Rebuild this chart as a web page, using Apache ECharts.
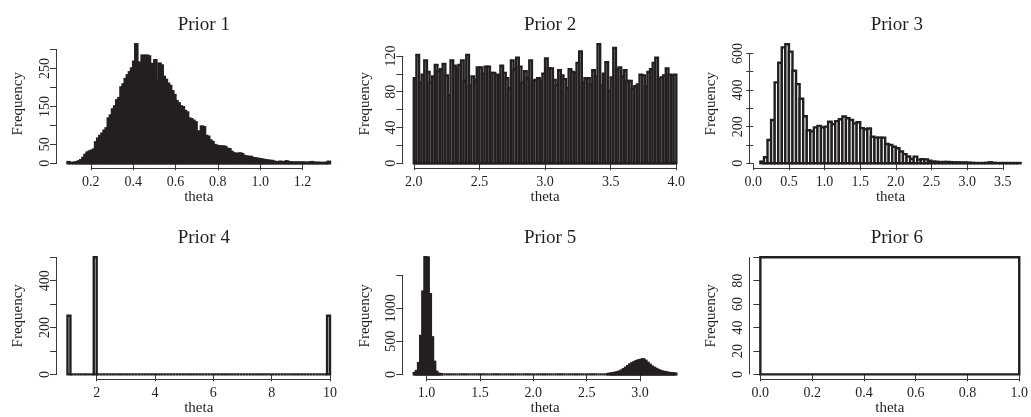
<!DOCTYPE html>
<html>
<head>
<meta charset="utf-8">
<script src="https://cdn.jsdelivr.net/npm/echarts@6/dist/echarts.min.js"></script>
<style>
html,body{margin:0;padding:0;background:#fff;}
#chart{width:1031px;height:417px;}
</style>
</head>
<body>
<div id="chart"></div>
<script>
// ---------- data ----------
const titles = ['Prior 1', 'Prior 2', 'Prior 3', 'Prior 4', 'Prior 5', 'Prior 6'];

// histogram bins: first break, bin width, counts
const prior1Start = 0.09, prior1Width = 0.01;
const prior1Counts = [3,1,0,2,3,5,8,14,22,28,31,33,36,55,65,72,78,86,92,118,126,142,150,166,172,200,208,222,232,240,250,268,314,266,262,284,283,284,282,250,262,272,218,263,258,228,220,210,204,190,180,164,158,150,148,138,134,118,116,112,108,80,84,97,95,72,70,60,56,48,46,45,44,44,43,38,37,30,26,25,24,26,24,19,18,16,17,14,13,12,11,10,9,8,7,6,6,4,3,2,4,3,2,5,3,2,1,2,1,2,1,2,1,1,2,3,1,1,1,1,0,1,1,4];

const prior2Start = 2.0, prior2Width = 0.02;
const prior2Counts = [95,121,90,99,115,102,90,97,110,103,105,111,98,76,115,109,106,110,115,92,121,87,97,93,107,107,100,108,108,101,101,99,98,109,101,95,84,115,105,118,108,90,103,95,115,92,93,95,92,100,117,106,106,93,87,104,98,94,84,105,102,101,112,125,90,95,95,88,104,97,133,87,100,113,81,96,129,105,107,97,104,92,92,83,86,88,99,98,86,102,105,112,118,94,96,98,106,99,98,99];

const prior3Start = 0.10, prior3Width = 0.05;
const prior3Counts = [9,33,127,236,442,549,633,650,610,505,432,352,257,180,174,196,204,196,200,227,213,230,240,255,246,236,218,224,192,186,190,145,140,140,140,105,100,90,82,64,50,37,24,36,20,22,21,14,9,8,6,7,7,6,5,5,4,4,3,2,1,1,1,2,5,2,1,1,1,1,1,1,1];

const prior4Start = 1.0, prior4Width = 0.1;
const prior4Counts = [250,0,0,0,0,0,0,0,0,500,
  0,0,0,0,0,0,0,0,0,0, 0,0,0,0,0,0,0,0,0,0, 0,0,0,0,0,0,0,0,0,0, 0,0,0,0,0,0,0,0,0,0,
  0,0,0,0,0,0,0,0,0,0, 0,0,0,0,0,0,0,0,0,0, 0,0,0,0,0,0,0,0,0,0,
  0,0,0,0,0,0,0,0,0,250];

const prior5Start = 0.88, prior5Width = 0.02;
const prior5Counts = [20,50,170,580,1250,1770,1765,1210,560,190,40,10,3,
  0,0,0,0,0,0,0,0,0,0, 0,0,0,0,0,0,0,0,0,0, 0,0,0,0,0,0,0,0,0,0, 0,0,0,0,0,0,0,0,0,0,
  0,0,0,0,0,0,0,0,0,0, 0,0,0,0,0,0,0,0,0,0, 0,0,0,0,0,0,0,0,0,0, 0,0,0,0,0,0,0,0,
  8,12,18,25,32,42,58,78,100,125,150,168,185,200,212,218,228,205,175,145,118,100,82,66,52,42,34,27,22,18,14,11];

const prior6Start = 0.0, prior6Width = 1.0;
const prior6Counts = [100];

// axis ticks and labels
const xTicks = [
  [0.2,0.4,0.6,0.8,1.0,1.2],
  [2.0,2.5,3.0,3.5,4.0],
  [0.0,0.5,1.0,1.5,2.0,2.5,3.0,3.5],
  [2,4,6,8,10],
  [1.0,1.5,2.0,2.5,3.0],
  [0.0,0.2,0.4,0.6,0.8,1.0]
];
const xLabelDecimals = [1,1,1,0,1,1];
const yTicks = [
  [0,50,100,150,200,250,300],
  [0,20,40,60,80,100,120],
  [0,100,200,300,400,500,600],
  [0,100,200,300,400,500],
  [0,500,1000,1500],
  [0,20,40,60,80,100]
];
const yLabels = [
  [0,50,150,250],
  [0,40,80,120],
  [0,200,400,600],
  [0,200,400],
  [0,500,1000],
  [0,20,40,60,80]
];
const xName = 'theta', yName = 'Frequency';

// ---------- build ----------
const starts = [prior1Start, prior2Start, prior3Start, prior4Start, prior5Start, prior6Start];
const widths = [prior1Width, prior2Width, prior3Width, prior4Width, prior5Width, prior6Width];
const counts = [prior1Counts, prior2Counts, prior3Counts, prior4Counts, prior5Counts, prior6Counts];

const FONT = '"Liberation Serif", "DejaVu Serif", serif';
const INK = '#231f20';
const AXIS = '#3a3a3a';
const colLeft = [57, 403.3, 750];
const rowTop = [39.5, 252.5];
const GW = 283.5, GH = 128.5;

const grid = [], xAxis = [], yAxis = [], series = [], title = [];

for (let i = 0; i < 6; i++) {
  const r = Math.floor(i / 3), c = i % 3;
  const n = counts[i].length;
  const xlo = starts[i], xhi = starts[i] + n * widths[i];
  const xr = xhi - xlo;
  const ymax = Math.max.apply(null, counts[i]);
  grid.push({left: colLeft[c], top: rowTop[r], width: GW, height: GH});
  title.push({
    text: titles[i], left: colLeft[c] + GW / 2, top: rowTop[r] - 29, textAlign: 'center',
    textStyle: {fontFamily: FONT, fontSize: 19, fontWeight: 'normal', color: INK}
  });
  const dec = xLabelDecimals[i];
  xAxis.push({
    gridIndex: i, type: 'value', min: xlo - 0.04 * xr, max: xhi + 0.04 * xr,
    axisLine: {show: false}, splitLine: {show: false},
    axisTick: {show: true, length: 7, customValues: xTicks[i], lineStyle: {color: AXIS, width: 1}},
    axisLabel: {customValues: xTicks[i], margin: 7, fontFamily: FONT, fontSize: 14, color: INK,
      formatter: v => Number(v).toFixed(dec)},
    name: xName, nameLocation: 'middle', nameGap: 21,
    nameTextStyle: {fontFamily: FONT, fontSize: 15, color: INK}
  });
  yAxis.push({
    gridIndex: i, type: 'value', min: -0.04 * ymax, max: 1.04 * ymax,
    axisLine: {show: false}, splitLine: {show: false},
    axisTick: {show: true, length: 7, customValues: yTicks[i], lineStyle: {color: AXIS, width: 1}},
    axisLabel: {customValues: yLabels[i], rotate: 90, margin: 5, fontFamily: FONT, fontSize: 14, color: INK,
      formatter: v => String(v)},
    name: yName, nameLocation: 'middle', nameGap: 31, nameRotate: 90,
    nameTextStyle: {fontFamily: FONT, fontSize: 15, color: INK}
  });
  const bins = counts[i].map((v, j) => [starts[i] + j * widths[i], starts[i] + (j + 1) * widths[i], v]);
  series.push({
    type: 'custom', xAxisIndex: i, yAxisIndex: i, data: bins, encode: {x: [0, 1], y: 2},
    silent: true, clip: false,
    renderItem: (params, api) => {
      const p0 = api.coord([api.value(0), 0]);
      const p1 = api.coord([api.value(1), api.value(2)]);
      return {
        type: 'rect',
        shape: {x: p0[0], y: p1[1], width: p1[0] - p0[0], height: p0[1] - p1[1]},
        style: {fill: '#ffffff', stroke: INK, lineWidth: 2.4}
      };
    }
  });
  const xt = xTicks[i], yt = yTicks[i];
  series.push({
    type: 'custom', xAxisIndex: i, yAxisIndex: i,
    data: [[xt[0], xt[xt.length - 1], yt[0], yt[yt.length - 1]]],
    encode: {x: [0, 1], y: [2, 3]}, silent: true, clip: false,
    renderItem: (params, api) => {
      const cs = params.coordSys;
      const xa = api.coord([api.value(0), api.value(2)])[0];
      const xb = api.coord([api.value(1), api.value(2)])[0];
      const ya = api.coord([api.value(0), api.value(2)])[1];
      const yb = api.coord([api.value(0), api.value(3)])[1];
      const by = Math.round(cs.y + cs.height) + 0.5;
      const lx = Math.round(cs.x) - 0.5;
      return {
        type: 'group',
        children: [
          {type: 'line', shape: {x1: xa, y1: by, x2: xb, y2: by}, style: {stroke: AXIS, lineWidth: 1}},
          {type: 'line', shape: {x1: lx, y1: ya, x2: lx, y2: yb}, style: {stroke: AXIS, lineWidth: 1}}
        ]
      };
    }
  });
}

const chart = echarts.init(document.getElementById('chart'), null, {renderer: 'canvas'});
chart.setOption({
  animation: false,
  backgroundColor: '#ffffff',
  title: title, grid: grid, xAxis: xAxis, yAxis: yAxis, series: series
});
</script>
</body>
</html>
